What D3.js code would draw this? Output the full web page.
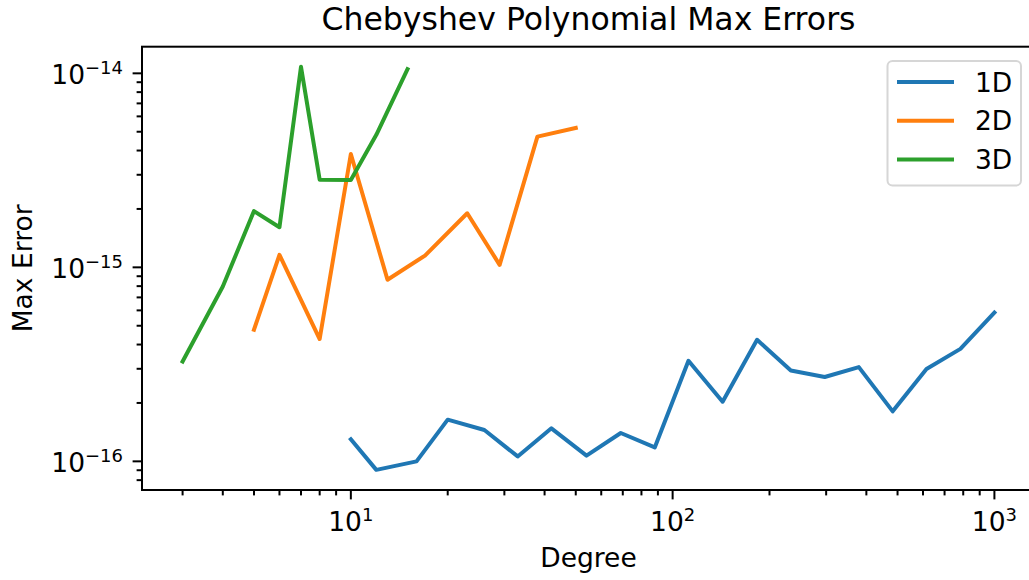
<!DOCTYPE html>
<html>
<head>
<meta charset="utf-8">
<script src="https://cdn.jsdelivr.net/npm/d3@7"></script>
<style>
  html, body { margin: 0; padding: 0; background: #fff; }
  svg { display: block; font-family: "DejaVu Sans", sans-serif; }
</style>
</head>
<body>
<svg id="chart" width="1029" height="580"></svg>
<script>
/* chebyshev max-error chart, log-log, three dimensions */
"use strict";

const deg1D = [10, 12, 16, 20, 26, 33, 42, 54, 69, 88, 112, 143, 183, 233, 297, 379, 483, 615, 784, 1000];
const err1D = [1.30e-16, 0.904e-16, 1.00e-16, 1.64e-16, 1.45e-16, 1.06e-16, 1.48e-16, 1.07e-16, 1.40e-16, 1.18e-16,
               3.30e-16, 2.03e-16, 4.23e-16, 2.94e-16, 2.72e-16, 3.06e-16, 1.81e-16, 2.99e-16, 3.80e-16, 5.85e-16];
const deg2D = [5, 6, 8, 10, 13, 17, 23, 29, 38, 50];
const err2D = [4.77e-16, 1.16e-15, 4.27e-16, 3.84e-15, 8.63e-16, 1.15e-15, 1.90e-15, 1.03e-15, 4.72e-15, 5.23e-15];
const deg3D = [3, 4, 5, 6, 7, 8, 10, 12, 15];
const err3D = [3.27e-16, 7.96e-16, 1.95e-15, 1.61e-15, 1.08e-14, 2.83e-15, 2.82e-15, 4.82e-15, 1.05e-14];

const seriesNames = ["1D", "2D", "3D"];
const COLORS = ["#1f77b4", "#ff7f0e", "#2ca02c"];

const series = [
  { name: seriesNames[0], pts: deg1D.map((d, i) => [d, err1D[i]]) },
  { name: seriesNames[1], pts: deg2D.map((d, i) => [d, err2D[i]]) },
  { name: seriesNames[2], pts: deg3D.map((d, i) => [d, err3D[i]]) },
];

const M = { left: 142, right: 1035, top: 46.7, bottom: 490 };
const FONT = 26.5;
const SUP = 18;

const svg = d3.select("#chart");

/* matplotlib style 5% padding in log space */
function logPad(values) {
  const [lo, hi] = d3.extent(values).map(Math.log10);
  const m = (hi - lo) * 0.05;
  return [10 ** (lo - m), 10 ** (hi + m)];
}

const allPts = series.flatMap((s) => s.pts);
const x = d3.scaleLog(logPad(allPts.map((p) => p[0])), [M.left, M.right]);
const y = d3.scaleLog(logPad(allPts.map((p) => p[1])), [M.bottom, M.top]);

const isMajor = (v) => Math.abs(Math.log10(v) - Math.round(Math.log10(v))) < 1e-9;

/* -- ticks ---------------------------------------------------------------- */

const tickG = svg.append("g").attr("stroke", "#000").attr("stroke-width", 2);

for (const v of x.ticks()) {
  const len = isMajor(v) ? 9.4 : 5.4;
  tickG.append("line").attr("x1", x(v)).attr("x2", x(v)).attr("y1", M.bottom).attr("y2", M.bottom + len);
}
for (const v of y.ticks()) {
  const len = isMajor(v) ? 9.4 : 5.4;
  tickG.append("line").attr("y1", y(v)).attr("y2", y(v)).attr("x1", M.left).attr("x2", M.left - len);
}

function powLabel(sel, exp) {
  sel.append("tspan").text("10");
  sel.append("tspan").attr("font-size", SUP).attr("dy", -10)
    .text(exp < 0 ? "\u2212" + Math.abs(exp) : String(exp));
}

for (const v of x.ticks().filter(isMajor)) {
  svg.append("text")
    .attr("x", x(v)).attr("y", 531)
    .attr("text-anchor", "middle").attr("font-size", FONT)
    .call(powLabel, Math.round(Math.log10(v)));
}
for (const v of y.ticks().filter(isMajor)) {
  svg.append("text")
    .attr("x", M.left - 19).attr("y", y(v) + 10.5)
    .attr("text-anchor", "end").attr("font-size", FONT)
    .call(powLabel, Math.round(Math.log10(v)));
}

/* -- lines ---------------------------------------------------------------- */

svg.append("clipPath").attr("id", "plot-clip")
  .append("rect")
  .attr("x", M.left).attr("y", M.top)
  .attr("width", M.right - M.left).attr("height", M.bottom - M.top);

const line = d3.line().x((d) => x(d[0])).y((d) => y(d[1]));

svg.append("g").attr("clip-path", "url(#plot-clip)")
  .selectAll("path")
  .data(series)
  .join("path")
  .attr("d", (d) => line(d.pts))
  .attr("fill", "none")
  .attr("stroke", (d, i) => COLORS[i])
  .attr("stroke-width", 4)
  .attr("stroke-linejoin", "round")
  .attr("stroke-linecap", "square");

/* spines */
svg.append("rect")
  .attr("x", M.left).attr("y", M.top)
  .attr("width", M.right - M.left).attr("height", M.bottom - M.top)
  .attr("fill", "none").attr("stroke", "#000").attr("stroke-width", 2);

/* -- titles --------------------------------------------------------------- */

const midX = (M.left + M.right) / 2;
svg.append("text").attr("x", midX).attr("y", 29.5)
  .attr("text-anchor", "middle").attr("font-size", 31.5)
  .text("Chebyshev Polynomial Max Errors");
svg.append("text").attr("x", midX).attr("y", 567)
  .attr("text-anchor", "middle").attr("font-size", FONT)
  .text("Degree");
svg.append("text")
  .attr("transform", `translate(32,${(M.top + M.bottom) / 2}) rotate(-90)`)
  .attr("text-anchor", "middle").attr("font-size", FONT)
  .text("Max Error");

/* -- legend --------------------------------------------------------------- */

const legend = svg.append("g").attr("transform", "translate(887.5,61)");
legend.append("rect")
  .attr("width", 133.5).attr("height", 124.5).attr("rx", 5)
  .attr("fill", "#fff").attr("fill-opacity", 0.8)
  .attr("stroke", "#d6d6d6").attr("stroke-width", 2);

const row = legend.selectAll("g.row")
  .data(series)
  .join("g")
  .attr("class", "row")
  .attr("transform", (d, i) => `translate(0,${21 + i * 38.8})`);
row.append("line")
  .attr("x1", 9.5).attr("x2", 66.5)
  .attr("stroke", (d, i) => COLORS[i]).attr("stroke-width", 4);
row.append("text")
  .attr("x", 87.5).attr("dy", "0.36em")
  .attr("font-size", FONT)
  .text((d) => d.name);
</script>
</body>
</html>
